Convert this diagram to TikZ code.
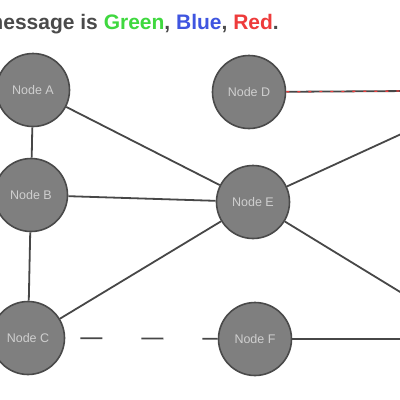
\documentclass[tikz,border=0pt]{standalone}
\usepackage{fontspec}
\setmainfont{Liberation Sans}
\definecolor{nodefill}{HTML}{7F7F7F}
\definecolor{nodeedge}{HTML}{4A4A4A}
\definecolor{nodetext}{HTML}{CFCFCF}
\definecolor{edgecol}{HTML}{474747}
\definecolor{titlecol}{HTML}{4A4A4A}
\definecolor{tgreen}{HTML}{3FD83F}
\definecolor{tblue}{HTML}{3F55E0}
\definecolor{tred}{HTML}{EE3B3B}
\begin{document}
\begin{tikzpicture}[x=1pt,y=-1pt,
  gnode/.style={circle,draw=nodeedge,line width=1.6pt,fill=nodefill,minimum size=73pt,inner sep=0pt,
    text=nodetext,font=\fontsize{12.5}{14}\selectfont},
  link/.style={draw=edgecol,line width=1.8pt},
  dashlink/.style={link,dash pattern=on 22pt off 39pt,dash phase=46pt},
  redlink/.style={draw=tred,line width=1.3pt,dash pattern=on 3pt off 8pt}]
\useasboundingbox (0,0) rectangle (400,400);
\fill[white] (0,0) rectangle (400,400);
\node[anchor=base east,text=titlecol,font=\bfseries\fontsize{21}{24}\selectfont,inner sep=0pt] (title) at (279,29)
  {message is \textcolor{tgreen}{Green}, \textcolor{tblue}{Blue}, \textcolor{tred}{Red}.};
\coordinate (dout) at (410,91);
\coordinate (eup) at (410,130);
\coordinate (edown) at (410,298);
\coordinate (fout) at (410,339);
\node[gnode] (A) at (33,90) {Node A};
\node[gnode] (B) at (31,195) {Node B};
\node[gnode] (C) at (28,338) {Node C};
\node[gnode] (D) at (249,92) {Node D};
\node[gnode] (E) at (253,202) {Node E};
\node[gnode] (F) at (255,339) {Node F};
\path[link] (A) -- (B);
\path[link] (B) -- (C);
\path[link] (A) -- (E);
\path[link] (B) -- (E);
\path[link] (C) -- (E);
\path[dashlink] (C) -- (F);
\path[link] (D) -- (dout);
\path[redlink] (D) -- (dout);
\path[link] (E) -- (eup);
\path[link] (E) -- (edown);
\path[link] (F) -- (fout);
\end{tikzpicture}
\end{document}
